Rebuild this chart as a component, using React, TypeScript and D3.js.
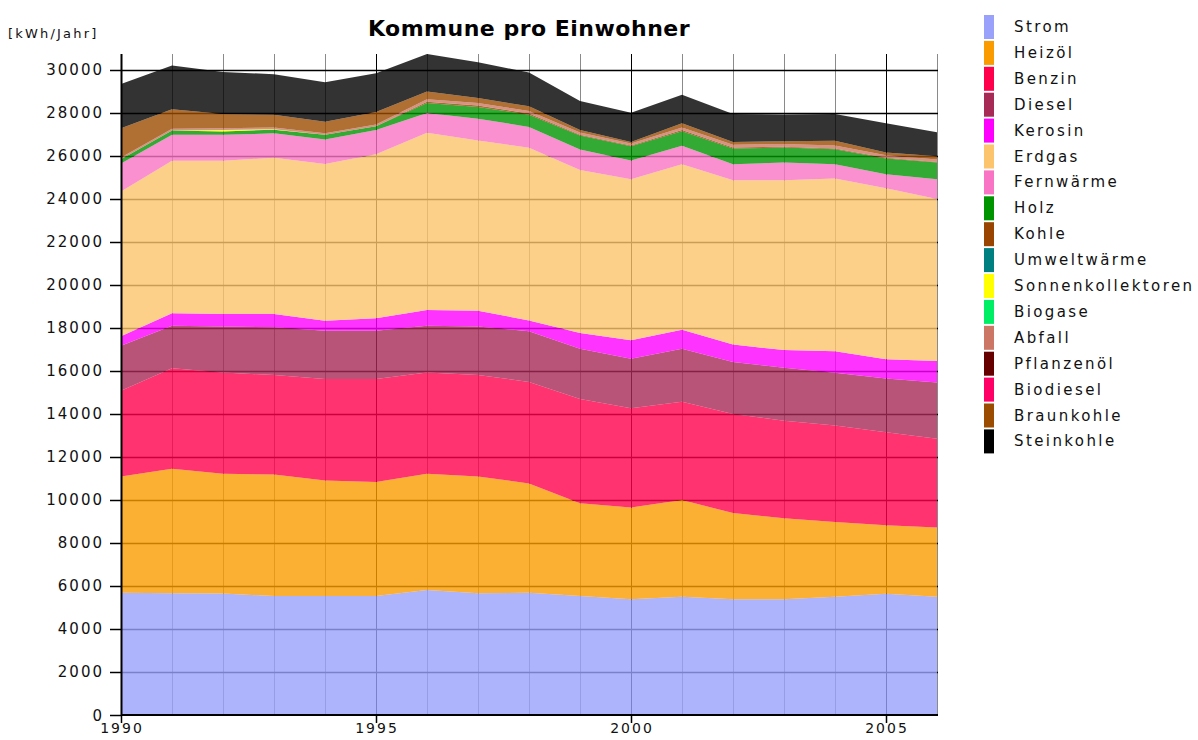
import React, { useRef, useEffect } from "react";
import * as d3 from "d3";

// Endenergie pro Einwohner, kWh/Jahr, 1990-2006
const years = [1990, 1991, 1992, 1993, 1994, 1995, 1996, 1997, 1998, 1999, 2000, 2001, 2002, 2003, 2004, 2005, 2006];

const strom = [5690, 5660, 5650, 5530, 5530, 5530, 5810, 5660, 5690, 5530, 5380, 5500, 5380, 5380, 5500, 5640, 5500];
const heizoel = [5400, 5790, 5570, 5660, 5370, 5300, 5410, 5430, 5080, 4320, 4270, 4500, 4010, 3770, 3470, 3180, 3220];
const benzin = [3990, 4670, 4710, 4620, 4720, 4790, 4710, 4720, 4720, 4840, 4610, 4570, 4610, 4540, 4490, 4330, 4130];
const diesel = [2090, 1980, 2140, 2220, 2250, 2250, 2170, 2260, 2360, 2340, 2310, 2460, 2420, 2460, 2460, 2500, 2610];
const kerosin = [440, 580, 580, 620, 470, 580, 730, 730, 500, 740, 860, 890, 810, 820, 1000, 890, 1000];
const erdgas = [6730, 7090, 7120, 7270, 7280, 7630, 8250, 7920, 8030, 7580, 7490, 7690, 7640, 7900, 8030, 7960, 7540];
const fernwaerme = [1310, 1220, 1210, 1130, 1140, 1120, 920, 1010, 970, 950, 870, 860, 740, 820, 660, 650, 910];
const holz = [200, 190, 160, 170, 220, 180, 460, 550, 570, 650, 660, 680, 740, 700, 700, 730, 780];
const kohle = [0, 0, 0, 0, 0, 0, 60, 60, 50, 40, 40, 50, 40, 40, 40, 30, 30];
const umweltwaerme = [0, 0, 0, 0, 0, 0, 0, 0, 0, 0, 0, 0, 0, 0, 0, 0, 0];
const sonnenkollektoren = [0, 0, 70, 20, 0, 0, 0, 0, 0, 0, 0, 0, 0, 0, 0, 0, 0];
const biogase = [0, 0, 0, 0, 0, 0, 0, 0, 0, 0, 0, 0, 0, 0, 0, 0, 0];
const abfall = [80, 80, 80, 80, 80, 80, 120, 120, 120, 100, 90, 120, 130, 130, 130, 120, 110];
const pflanzenoel = [0, 0, 0, 0, 0, 0, 0, 0, 0, 0, 0, 0, 0, 0, 0, 0, 0];
const biodiesel = [0, 0, 0, 0, 0, 0, 0, 0, 0, 0, 0, 0, 0, 0, 0, 0, 0];
const braunkohle = [1360, 910, 660, 600, 530, 580, 360, 230, 220, 110, 70, 200, 130, 120, 220, 130, 150];
const steinkohle = [2060, 2030, 1950, 1880, 1840, 1810, 1740, 1670, 1570, 1360, 1360, 1330, 1300, 1250, 1250, 1360, 1120];

const seriesNames = [
  "Strom", "Heizöl", "Benzin", "Diesel", "Kerosin", "Erdgas", "Fernwärme", "Holz", "Kohle",
  "Umweltwärme", "Sonnenkollektoren", "Biogase", "Abfall", "Pflanzenöl", "Biodiesel", "Braunkohle", "Steinkohle"
];
const seriesValues = [
  strom, heizoel, benzin, diesel, kerosin, erdgas, fernwaerme, holz, kohle,
  umweltwaerme, sonnenkollektoren, biogase, abfall, pflanzenoel, biodiesel, braunkohle, steinkohle
];
const seriesColors = [
  "#9aa1fb", "#fa9c01", "#ff004c", "#a62956", "#ff00ff", "#fcc46d", "#f974c4", "#009500", "#994400",
  "#008080", "#ffff00", "#00ee66", "#cc7766", "#660000", "#ff0066", "#9c4c00", "#000000"
];

const yTicks = [0, 2000, 4000, 6000, 8000, 10000, 12000, 14000, 16000, 18000, 20000, 22000, 24000, 26000, 28000, 30000];
const xTicks = [1990, 1995, 2000, 2005];

const App = () => {
  const svgRef = useRef(null);
  const width = 1198;
  const height = 740;

  useEffect(() => {
    const svg = d3.select(svgRef.current);
    svg.selectAll("*").remove();

    const left = 121, right = 937, bottom = 715;

    const table = years.map((yr, i) => {
      const row: any = { year: yr };
      seriesNames.forEach((n, k) => { row[n] = seriesValues[k][i]; });
      return row;
    });

    const stacked = d3.stack().keys(seriesNames)(table);
    const maxTotal = d3.max(stacked[stacked.length - 1], d => d[1]);

    const x = d3.scaleLinear().domain([years[0], years[years.length - 1]]).range([left, right]);
    const y = d3.scaleLinear().domain([0, maxTotal]).range([bottom, 54]);
    const top = y(maxTotal);

    const font = "'DejaVu Sans', Verdana, sans-serif";

    // grid behind the translucent areas
    const grid = svg.append("g");
    grid.selectAll("line.v")
      .data(years)
      .join("line")
      .attr("x1", d => x(d) + 0.5)
      .attr("x2", d => x(d) + 0.5)
      .attr("y1", top)
      .attr("y2", bottom)
      .attr("stroke", d => (d % 5 === 0 ? "#000" : "#8a8a8a"))
      .attr("stroke-width", 1);

    grid.selectAll("line.h")
      .data(yTicks.filter(t => t > 0))
      .join("line")
      .attr("x1", left)
      .attr("x2", right + 1)
      .attr("y1", d => Math.round(y(d)) + 0.5)
      .attr("y2", d => Math.round(y(d)) + 0.5)
      .attr("stroke", "#000")
      .attr("stroke-width", 1.3);

    // areas
    const area = d3.area()
      .x((d: any) => x(d.data.year))
      .y0((d: any) => y(d[0]))
      .y1((d: any) => y(d[1]));

    svg.append("g")
      .selectAll("path")
      .data(stacked)
      .join("path")
      .attr("d", area as any)
      .attr("fill", (d, i) => seriesColors[i])
      .attr("fill-opacity", 0.8);

    // axes
    svg.append("line")
      .attr("x1", left + 0.5).attr("x2", left + 0.5)
      .attr("y1", top).attr("y2", bottom)
      .attr("stroke", "#000").attr("stroke-width", 2);
    svg.append("line")
      .attr("x1", left).attr("x2", right + 1)
      .attr("y1", bottom).attr("y2", bottom)
      .attr("stroke", "#000").attr("stroke-width", 2);

    const yAxis = svg.append("g");
    yAxis.selectAll("line")
      .data(yTicks)
      .join("line")
      .attr("x1", left - 11).attr("x2", left)
      .attr("y1", d => Math.round(y(d)) + 0.5)
      .attr("y2", d => Math.round(y(d)) + 0.5)
      .attr("stroke", "#000").attr("stroke-width", 1.5);
    yAxis.selectAll("text")
      .data(yTicks)
      .join("text")
      .attr("x", left - 17)
      .attr("y", d => y(d) + 5.5)
      .attr("text-anchor", "end")
      .attr("font-family", font)
      .attr("font-size", "15px")
      .attr("letter-spacing", "2px")
      .attr("fill", "#111")
      .text(d => d);

    const xAxis = svg.append("g");
    xAxis.selectAll("line")
      .data(xTicks)
      .join("line")
      .attr("x1", d => x(d) + 0.5).attr("x2", d => x(d) + 0.5)
      .attr("y1", bottom).attr("y2", bottom + 8)
      .attr("stroke", "#000").attr("stroke-width", 1.5);
    xAxis.selectAll("text")
      .data(xTicks)
      .join("text")
      .attr("x", d => x(d) + 1)
      .attr("y", bottom + 18)
      .attr("text-anchor", "middle")
      .attr("font-family", font)
      .attr("font-size", "14px")
      .attr("letter-spacing", "2px")
      .attr("fill", "#111")
      .text(d => d);

    // title and unit
    svg.append("text")
      .attr("x", 529).attr("y", 36)
      .attr("text-anchor", "middle")
      .attr("font-family", font)
      .attr("font-weight", "bold")
      .attr("font-size", "22px")
      .attr("letter-spacing", "0.5px")
      .attr("fill", "#000")
      .text("Kommune pro Einwohner");
    svg.append("text")
      .attr("x", 8).attr("y", 38)
      .attr("font-family", font)
      .attr("font-size", "13px")
      .attr("letter-spacing", "2.2px")
      .attr("fill", "#111")
      .text("[kWh/Jahr]");

    // legend
    const legend = svg.append("g");
    legend.selectAll("rect")
      .data(seriesNames)
      .join("rect")
      .attr("x", 984)
      .attr("y", (d, i) => 15 + i * 25.9)
      .attr("width", 10)
      .attr("height", 24)
      .attr("fill", (d, i) => seriesColors[i]);
    legend.selectAll("text")
      .data(seriesNames)
      .join("text")
      .attr("x", 1014)
      .attr("y", (d, i) => 32 + i * 25.9)
      .attr("font-family", font)
      .attr("font-size", "15px")
      .attr("letter-spacing", "2.4px")
      .attr("fill", "#111")
      .text(d => d);
  }, []);

  return (
    <svg
      ref={svgRef}
      width={width}
      height={height}
      style={{ position: "absolute", left: 0, top: 0, background: "#fff" }}
    />
  );
};

export default App;
